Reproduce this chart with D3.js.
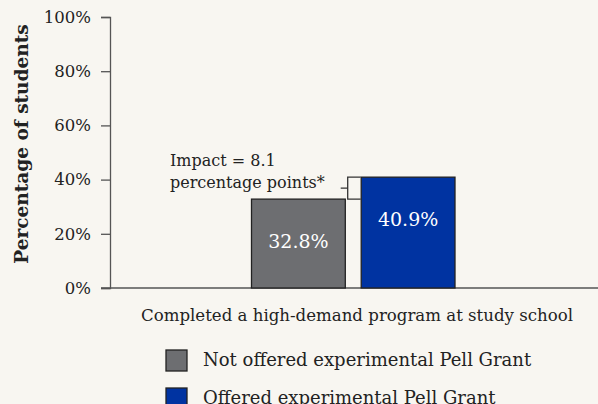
<!DOCTYPE html>
<html>
<head>
<meta charset="utf-8">
<script src="https://cdn.jsdelivr.net/npm/d3@7"></script>
<style>
  body { margin: 0; background: #f8f6f1; }
  svg { display: block; font-family: "DejaVu Serif", serif; }
</style>
</head>
<body>
<div id="container"></div>
<script>
// data
const groups = ["Not offered experimental Pell Grant", "Offered experimental Pell Grant"];
const values = [32.8, 40.9];
const colors = ["#6d6e71", "#0033a1"];
const yTicks = [0, 20, 40, 60, 80, 100];
const category = "Completed a high-demand program at study school";
const impactLines = ["Impact = 8.1", "percentage points*"];

let w = 598;
let h = 404;

let viz = d3.select("#container")
  .append("svg")
    .attr("width", w)
    .attr("height", h)
    .style("background-color", "#f8f6f1");

let y = d3.scaleLinear().domain([0, 100]).range([288, 17]);
let x = d3.scaleBand().domain(groups).range([251.5, 455]).paddingInner(0.145).paddingOuter(0);

// y axis
let yAxis = d3.axisLeft(y).tickValues(yTicks).tickFormat(d => d + "%").tickSize(9).tickPadding(10);
let yg = viz.append("g").attr("transform", "translate(110,0)").call(yAxis);
yg.select(".domain").attr("stroke", "#555").attr("stroke-width", 1.3);
yg.selectAll(".tick line").attr("stroke", "#555").attr("stroke-width", 1.3);
yg.selectAll(".tick text").attr("font-family", "DejaVu Serif").attr("font-size", 16.5).attr("fill", "#222");

// baseline
viz.append("line")
  .attr("x1", 101).attr("x2", w)
  .attr("y1", y(0)).attr("y2", y(0))
  .attr("stroke", "#555").attr("stroke-width", 1.3);

viz.append("text")
  .attr("transform", "translate(23,144) rotate(-90)")
  .attr("text-anchor", "middle")
  .attr("dominant-baseline", "middle")
  .attr("font-size", 18.5)
  .attr("font-weight", "bold")
  .attr("fill", "#222")
  .text("Percentage of students");

// bars
viz.selectAll(".bar").data(groups).enter()
  .append("rect")
    .attr("class", "bar")
    .attr("x", d => x(d))
    .attr("width", x.bandwidth())
    .attr("y", (d, i) => y(values[i]))
    .attr("height", (d, i) => y(0) - y(values[i]))
    .attr("fill", (d, i) => colors[i])
    .attr("stroke", "#222")
    .attr("stroke-width", 1.3);

viz.selectAll(".barlabel").data(groups).enter()
  .append("text")
    .attr("x", d => x(d) + x.bandwidth() / 2)
    .attr("y", (d, i) => y(values[i]) + 49)
    .attr("text-anchor", "middle")
    .attr("font-size", 19)
    .attr("fill", "#fff")
    .text((d, i) => values[i].toFixed(1) + "%");

// impact bracket
let bx = x(groups[1]) - 13.5;
let yTop = y(values[1]), yBot = y(values[0]);
viz.append("path")
  .attr("d", "M" + (bx + 13) + "," + yTop + "H" + bx + "V" + yBot + "H" + (bx + 13)
    + "M" + bx + "," + ((yTop + yBot) / 2) + "h-7")
  .attr("fill", "none")
  .attr("stroke", "#333")
  .attr("stroke-width", 1.3);

viz.selectAll(".impact").data(impactLines).enter()
  .append("text")
    .attr("x", 170)
    .attr("y", (d, i) => 166 + i * 22)
    .attr("font-size", 16)
    .attr("fill", "#222")
    .text(d => d);

// category label
viz.append("text")
  .attr("x", 357)
  .attr("y", 321)
  .attr("text-anchor", "middle")
  .attr("font-size", 16.6)
  .attr("fill", "#222")
  .text(category);

// legend
let leg = viz.selectAll(".leg").data(groups).enter()
  .append("g")
    .attr("transform", (d, i) => "translate(166," + (350 + i * 38) + ")");
leg.append("rect")
  .attr("width", 21).attr("height", 21)
  .attr("fill", (d, i) => colors[i])
  .attr("stroke", "#222").attr("stroke-width", 1.3);
leg.append("text")
  .attr("x", 37).attr("y", 16)
  .attr("font-size", 18)
  .attr("fill", "#222")
  .text(d => d);
</script>
</body>
</html>
